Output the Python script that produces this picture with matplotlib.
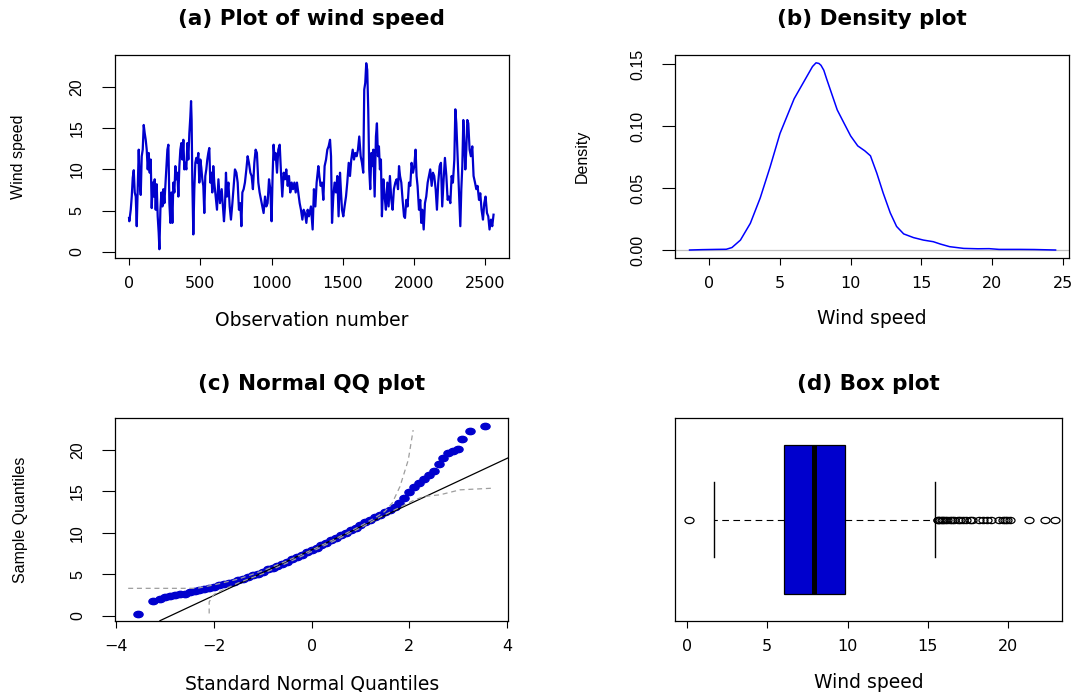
import numpy as np
import matplotlib
matplotlib.use("Agg")
import matplotlib.pyplot as plt
from matplotlib.path import Path

# ---------------- data ----------------
obs = [0, 2, 12, 19, 26, 33, 40, 47, 54, 61, 68, 75, 82, 89, 96, 103, 110, 117, 124, 131,
       138, 145, 152, 159, 166, 173, 180, 187, 194, 201, 208, 213, 220, 227, 234, 241, 248, 255, 262, 269,
       276, 283, 290, 297, 304, 311, 318, 325, 332, 339, 346, 353, 360, 367, 374, 381, 388, 395, 402, 409,
       416, 423, 430, 435, 439, 444, 451, 458, 465, 472, 479, 486, 493, 500, 507, 514, 521, 528, 535, 542,
       549, 556, 563, 570, 577, 584, 591, 598,
       610, 617, 627, 638, 650, 659, 666, 673, 680, 687, 697, 706, 715, 725, 734, 743, 753, 762, 771, 781,
       788, 795, 804, 813, 823, 832, 841, 851, 860, 869, 879, 888, 897, 907, 916, 926, 935, 944, 954, 963,
       972, 982, 991, 1000, 1007, 1014, 1021, 1028, 1038, 1047, 1057, 1066, 1075, 1085, 1094, 1103, 1113,
       1122, 1131, 1141, 1150, 1160, 1169, 1178, 1187, 1197, 1206, 1216, 1225, 1234, 1244, 1253, 1262,
       1276, 1288, 1297, 1307, 1316, 1328, 1335, 1344, 1354, 1363, 1372, 1382, 1391, 1400, 1410, 1417,
       1424, 1433, 1442, 1452, 1461, 1470, 1480, 1487, 1494, 1503, 1512, 1522, 1531, 1541, 1550, 1559,
       1569, 1578, 1587, 1597, 1606, 1615, 1625, 1634, 1643, 1650, 1657, 1664, 1671, 1678, 1685, 1692,
       1700, 1707, 1714, 1723, 1732, 1739, 1746, 1753, 1760, 1767, 1774, 1784, 1793, 1802, 1812, 1821,
       1830, 1840, 1849, 1858, 1868, 1877, 1887, 1894, 1901, 1910, 1919, 1929,
       1936, 1945, 1954, 1964, 1973, 1982, 1992, 2001, 2010, 2017, 2024, 2034, 2043, 2050, 2057, 2067,
       2076, 2085, 2095, 2104, 2113, 2123, 2132, 2141, 2151, 2160, 2169, 2179, 2188, 2197, 2207, 2216,
       2226, 2235, 2244, 2254, 2263, 2272, 2282, 2289, 2296, 2303, 2310, 2317, 2324, 2331, 2338, 2345,
       2352, 2359, 2366, 2373, 2380, 2389, 2398, 2408, 2417, 2427, 2436, 2445, 2455, 2464, 2473, 2483,
       2492, 2501, 2511, 2520, 2529, 2539, 2548, 2557]
wind = [4.1, 3.7, 5.1, 6.7, 9.0, 9.9, 7.2, 6.7, 3.1, 7.6, 12.4, 8.4, 6.9, 11.6, 12.4, 15.4, 14.4, 13.6, 12.4, 10.0,
        12.0, 9.6, 11.2, 5.3, 8.4, 6.7, 8.8, 5.1, 8.2, 4.3, 2.3, 0.3, 5.1, 7.2, 5.5, 7.6, 5.9, 8.0, 10.0, 12.4,
        13.0, 5.9, 3.5, 7.2, 3.5, 8.4, 7.2, 10.4, 8.8, 9.6, 6.7, 10.4, 12.4, 13.2, 11.2, 13.6, 10.0, 10.8, 10.0, 13.2,
        11.2, 14.4, 16.4, 18.3, 16.0, 8.4, 2.1, 7.6, 10.8, 11.4, 10.8, 12.0, 8.4, 11.2, 10.2, 8.8, 8.0, 4.7, 9.2, 10.0,
        11.2, 12.0, 12.6, 8.4, 9.6, 7.2, 10.4, 8.4,
        6.3, 5.1, 8.8, 5.9, 7.6, 5.5, 3.7, 5.5, 9.6, 6.7, 8.4, 5.5, 3.9, 5.9, 8.0, 10.0, 9.6, 8.4, 5.1, 5.9,
        3.1, 7.2, 7.6, 8.4, 10.0, 11.6, 10.8, 9.6, 9.2, 7.6, 10.8, 12.4, 12.0, 8.4, 7.2, 6.3, 5.5, 4.7, 6.7, 5.5,
        5.9, 8.8, 7.6, 3.7, 9.2, 13.0, 11.2, 12.0, 9.6, 12.4, 13.0, 9.6, 6.7, 9.6, 8.8, 10.0, 8.0,
        9.2, 7.2, 8.4, 7.6, 8.4, 7.2, 8.4, 7.2, 5.9, 5.1, 3.9, 5.1, 4.7, 3.5, 5.1, 4.3,
        5.5, 2.7, 7.6, 5.5, 8.4, 10.4, 9.2, 8.0, 8.4, 6.3, 10.4, 11.2, 12.4, 12.8, 13.6, 11.6,
        3.5, 6.7, 8.4, 7.2, 9.2, 4.3, 9.6, 7.2, 5.1, 4.3, 5.5, 6.7, 8.4, 10.8, 9.2, 11.2,
        12.4, 11.2, 12.0, 11.6, 12.4, 14.0, 11.6, 10.8, 9.6, 19.7, 20.5, 22.9, 22.1, 17.3, 10.0, 7.6,
        12.0, 10.4, 12.4, 6.7, 14.0, 15.6, 11.6, 12.8, 10.0, 11.2, 4.3, 8.8, 6.7, 5.1, 8.4, 5.5,
        9.2, 6.3, 5.1, 7.6, 8.4, 8.8, 7.6, 10.4, 9.2, 8.4, 6.3, 4.3,
        4.1, 6.3, 5.5, 8.4, 8.0, 10.8, 9.6, 10.4, 12.4, 9.2, 8.0, 5.1, 6.3, 3.5, 5.1, 2.7,
        5.9, 6.7, 8.4, 9.2, 10.0, 8.0, 9.6, 9.2, 7.6, 5.1, 8.4, 10.4, 10.8, 5.5, 8.8, 11.4,
        9.2, 6.3, 6.7, 5.9, 9.2, 8.4, 11.2, 17.3, 15.6, 12.4, 9.2, 6.3, 3.1, 7.6, 10.4, 16.0,
        13.2, 10.0, 12.4, 16.0, 15.6, 12.4, 11.6, 12.8, 9.2, 8.4, 7.6, 8.0, 6.3, 7.1, 5.1, 3.9,
        5.9, 6.7, 4.7, 4.3, 2.7, 3.9, 3.1, 4.5]

dens_x = [-1.4, -0.5, 0.5, 1.2, 1.6, 2.2, 2.9, 3.6, 4.3, 5.0, 5.5, 6.0, 6.5, 7.0, 7.3, 7.55, 7.75,
          7.9, 8.1, 8.3, 8.6, 9.05, 9.5, 10.0, 10.5, 11.0, 11.4, 11.85, 12.3, 12.8, 13.25, 13.75,
          14.45, 15.15, 15.85, 16.35, 17.0, 18.0, 19.0, 19.8, 20.5, 22.0, 23.0, 24.5]
dens_y = [0.0, 0.0003, 0.0005, 0.0006, 0.002, 0.008, 0.0215, 0.042, 0.067, 0.094, 0.108, 0.122, 0.132,
          0.142, 0.148, 0.151, 0.1505, 0.149, 0.145, 0.138, 0.128, 0.113, 0.103, 0.092, 0.084, 0.080,
          0.076, 0.062, 0.046, 0.030, 0.019, 0.013, 0.010, 0.008, 0.0067, 0.0048, 0.0027, 0.0013,
          0.0010, 0.0011, 0.0005, 0.0005, 0.0004, 0.0]

qq_theoretical = [-3.55, -3.26, -3.11, -3.0, -2.9, -2.8, -2.7, -2.6, -2.5, -2.4, -2.3, -2.2, -2.1,
                  -2.0, -1.9, -1.8, -1.7, -1.6, -1.5, -1.4, -1.3, -1.2, -1.1, -1.0, -0.9, -0.8, -0.7,
                  -0.6, -0.5, -0.4, -0.3, -0.2, -0.1, 0.0, 0.1, 0.2, 0.3, 0.4, 0.5, 0.6, 0.7, 0.8,
                  0.9, 1.0, 1.1, 1.2, 1.3, 1.4, 1.5, 1.6, 1.7, 1.8, 1.9, 2.0, 2.1, 2.2, 2.3, 2.4,
                  2.5, 2.6, 2.7, 2.8, 2.9, 3.0, 3.09, 3.24, 3.55]
qq_sample = [0.2, 1.8, 2.1, 2.3, 2.4, 2.5, 2.6, 2.7, 2.85, 3.0, 3.1, 3.25, 3.4,
             3.55, 3.7, 3.85, 4.0, 4.15, 4.3, 4.5, 4.7, 4.9, 5.1, 5.35, 5.6, 5.8, 6.05,
             6.3, 6.55, 6.85, 7.1, 7.4, 7.65, 7.95, 8.25, 8.55, 8.85, 9.15, 9.45, 9.7, 10.0, 10.3,
             10.65, 11.0, 11.3, 11.6, 11.9, 12.2, 12.5, 12.8, 13.1, 13.6, 14.2, 14.9, 15.5, 16.0, 16.5, 17.0,
             17.5, 18.3, 19.0, 19.6, 19.9, 20.1, 21.3, 22.3, 22.9]
qq_line_intercept = 7.98
qq_line_slope = 2.75
env_upper_x = [-3.76, -2.35, -2.0, -1.5, -1.0, -0.5, 0.0, 0.5, 1.0, 1.3, 1.5, 1.65, 1.81, 1.98, 2.08]
env_upper_y = [3.33, 3.33, 3.75, 4.45, 5.45, 6.65, 7.95, 9.35, 10.85, 11.85, 12.6, 13.6, 15.6, 18.8, 22.4]
env_lower_x = [-2.1, -2.1, -2.0, -1.8, -1.5, -1.0, -0.5, 0.0, 0.5, 1.0, 1.3, 1.6, 1.81, 2.08, 2.3, 2.63, 3.04, 3.72]
env_lower_y = [0.3, 1.7, 2.6, 3.2, 4.0, 5.1, 6.4, 7.75, 9.15, 10.6, 11.6, 12.5, 13.1, 13.9, 14.4, 14.6, 15.2, 15.4]

box_q1, box_median, box_q3 = 6.07, 7.94, 9.85
box_whisker_low, box_whisker_high = 1.72, 15.41
box_outliers = [0.16, 15.6, 15.65, 15.75, 15.85, 15.95, 16.05, 16.2, 16.35, 16.5, 16.65, 16.85, 17.0,
                17.2, 17.4, 17.6, 17.75, 18.2, 18.45, 18.7, 18.95, 19.45, 19.65, 19.8, 19.95, 20.1,
                21.3, 22.3, 22.9]

titles = ["(a) Plot of wind speed", "(b) Density plot", "(c) Normal QQ plot", "(d) Box plot"]

# ---------------- layout ----------------
W, H = 1077, 692
fig = plt.figure(figsize=(W / 100, H / 100), dpi=100)
HF = "DejaVu Sans"
VF = "Liberation Sans"
BLUE = "#0000CD"


def make_axes(l, t, r, b):
    ax = fig.add_axes([l / W, 1 - b / H, (r - l) / W, (b - t) / H])
    for s in ax.spines.values():
        s.set_linewidth(0.9)
    return ax, (l, t, r, b)


def style(ax, box, title, title_y, xticks, xlabels, xlab, xlab_y,
          yticks=None, ylabels=None, ylab=None, ylab_x=None):
    l, t, r, b = box
    w, h = r - l, b - t
    ax.set_xticks(xticks, labels=xlabels, fontfamily=HF, fontsize=11.5)
    ax.tick_params(axis="x", length=5, width=0.8, pad=8, direction="out")
    if yticks is not None:
        ax.set_yticks(yticks, labels=ylabels, fontfamily=VF, fontsize=11.5,
                      rotation=90, va="center")
        ax.tick_params(axis="y", length=9.5, width=0.8, pad=12, direction="out")
    else:
        ax.set_yticks([])
    ax.set_xlabel(xlab, fontfamily=HF, fontsize=13.5)
    ax.xaxis.label.set_va("center")
    ax.xaxis.set_label_coords(0.5, (b - xlab_y) / h)
    if ylab is not None:
        ax.set_ylabel(ylab, fontfamily=VF, fontsize=11.5)
        ax.yaxis.label.set_va("center")
        ax.yaxis.set_label_coords((ylab_x - l) / w, 0.5)
    ax.set_title(title, fontfamily=HF, fontweight="bold", fontsize=15.5,
                 y=1 + (t - title_y) / h, pad=0, va="center")


# (a) time series
axa, boxa = make_axes(114.5, 55, 508.5, 258.3)
axa.plot(obs, wind, color=BLUE, lw=1.6)
axa.set_xlim(-102, 2662)
axa.set_ylim(-0.8, 23.9)
style(axa, boxa, titles[0], 19, [0, 500, 1000, 1500, 2000, 2500],
      ["0", "500", "1000", "1500", "2000", "2500"], "Observation number", 320,
      [0, 5, 10, 15, 20], ["0", "5", "10", "15", "20"], "Wind speed", 19)

# (b) density
axb, boxb = make_axes(675, 55, 1069, 257.7)
axb.axhline(0, color="#BEBEBE", lw=0.9)
axb.plot(dens_x, dens_y, color="#0000FF", lw=1.1)
axb.set_xlim(-2.43, 25.45)
axb.set_ylim(-0.0062, 0.1573)
style(axb, boxb, titles[1], 19, [0, 5, 10, 15, 20, 25],
      ["0", "5", "10", "15", "20", "25"], "Wind speed", 319,
      [0.0, 0.05, 0.10, 0.15], ["0.00", "0.05", "0.10", "0.15"], "Density", 582)

# (c) QQ plot
circ = Path.unit_circle()
ellipse = Path(circ.vertices * np.array([1.45, 1.0]), circ.codes)
axc, boxc = make_axes(115, 418.3, 508.3, 620.7)
axc.plot(qq_theoretical, qq_sample, ls="none", marker=ellipse, ms=6.6,
         color=BLUE, mec=BLUE, zorder=2)
axc.axline((0, qq_line_intercept), slope=qq_line_slope, color="black", lw=0.9, zorder=3)
axc.plot(env_upper_x, env_upper_y, color="#9E9E9E", lw=0.9, ls=(0, (4, 3)), zorder=4)
axc.plot(env_lower_x, env_lower_y, color="#9E9E9E", lw=0.9, ls=(0, (4, 3)), zorder=4)
axc.set_xlim(-4.03, 4.03)
axc.set_ylim(-0.57, 23.82)
style(axc, boxc, titles[2], 384, [-4, -2, 0, 2, 4],
      ["\u22124", "\u22122", "0", "2", "4"], "Standard Normal Quantiles", 684,
      [0, 5, 10, 15, 20], ["0", "5", "10", "15", "20"], "Sample Quantiles", 20)

# (d) box plot
axd, boxd = make_axes(675, 418.3, 1062, 620.7)
stats = [dict(med=box_median, q1=box_q1, q3=box_q3, whislo=box_whisker_low,
              whishi=box_whisker_high, fliers=box_outliers)]
bx_kw = dict(positions=[1], widths=0.8, patch_artist=True, capwidths=0.4,
             boxprops=dict(facecolor=BLUE, edgecolor="black", linewidth=0.9),
             medianprops=dict(color="black", linewidth=3.6, solid_capstyle="butt"),
             whiskerprops=dict(color="black", linewidth=0.8, linestyle=(0, (6, 4))),
             capprops=dict(color="black", linewidth=1.0),
             flierprops=dict(marker=ellipse, markersize=6.5, markerfacecolor="none",
                             markeredgecolor="black", markeredgewidth=0.9, linestyle="none"))
try:
    axd.bxp(stats, orientation="horizontal", **bx_kw)
except TypeError:
    axd.bxp(stats, vert=False, **bx_kw)
axd.set_xlim(-0.73, 23.34)
axd.set_ylim(0.46, 1.54)
style(axd, boxd, titles[3], 384, [0, 5, 10, 15, 20],
      ["0", "5", "10", "15", "20"], "Wind speed", 683)

fig.savefig("out.png", dpi=100)
